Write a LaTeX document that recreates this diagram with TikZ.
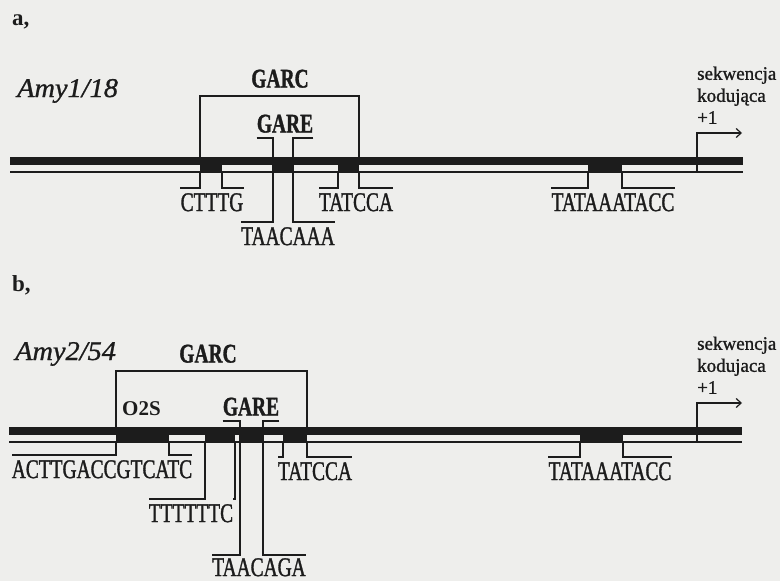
\documentclass[tikz,border=0pt]{standalone}
\usepackage{fontspec}
\setmainfont{Liberation Serif}
\newfontfamily\seqfont[FakeStretch=0.72,FakeBold=1.2]{Liberation Serif}
\newfontfamily\genefont[FakeStretch=1.05,FakeBold=1]{Liberation Serif}
\newfontfamily\notefont[FakeBold=1.2]{Liberation Serif}
\usepackage{tikz}
\usetikzlibrary{positioning,arrows.meta}
\definecolor{paper}{HTML}{EEEEEC}
\definecolor{ink}{HTML}{1C1C1C}
\tikzset{
  box/.style    = {rectangle, fill=ink, draw=none, inner sep=0pt, outer sep=0pt,
                   anchor=north west, minimum height=16pt},
  brk/.style    = {line width=1.2pt, draw=ink},
  strand/.style = {line width=1.5pt, draw=ink},
  flow/.style   = {-{Straight Barb[length=5pt,width=9pt]}, line width=1.2pt, draw=ink},
  seq/.style    = {font=\seqfont\fontsize{27}{27}\selectfont, text=ink,
                   inner xsep=0pt, inner ysep=5pt, anchor=north},
  elem/.style   = {font=\seqfont\bfseries\fontsize{27}{27}\selectfont, text=ink,
                   inner xsep=0pt, inner ysep=5pt, anchor=south},
  gene/.style   = {font=\genefont\itshape\fontsize{27}{27}\selectfont, text=ink, inner sep=0pt, anchor=base west},
  panel/.style  = {font=\bfseries\fontsize{23}{23}\selectfont, text=ink, inner sep=0pt, anchor=base west},
  note/.style   = {font=\notefont\fontsize{19}{22}\selectfont, text=ink, align=left, inner sep=0pt,
                   anchor=south west},
}
\begin{document}
\begin{tikzpicture}[x=1pt, y=-1pt]
  \fill[paper] (0,0) rectangle (780,581);
  \useasboundingbox (0,0) rectangle (780,581);

  % a, Amy1/18
  \node[panel] (pa) at (12,25) {a,};
  \node[gene] (amyA) at (17,97) {Amy1/18};
  \fill[ink] (10,157) rectangle (743,165);
  \draw[strand] (10,172) -- (743,172);
  \foreach \n/\l/\w in {a1/200/22, a2/273/20, a3/338/21, a4/588/34}
    \node[box, minimum width=\w pt] (\n) at (\l,157) {};

  \node[elem, inner ysep=8pt] (garcA) at (280,96) {GARC};
  \node[elem] (gareA) at (285,138) {GARE};
  \node[seq] (ctttg) at (212,188) {CTTTG};
  \node[seq] (taacaaa) at (288,222) {TAACAAA};
  \node[seq] (tatccaA) at (356,188) {TATCCA};
  \node[seq] (tataA) at (613,188) {TATAAATACC};
  \node[note] (cdsA) at (697,124) {sekwencja\\kodująca\\+1};

  \draw[brk] (a1.north west) |- (garcA.south) -| (a3.north east);
  \draw[brk] (gareA.south west) -| (a2.north west) |- (taacaaa.north west);
  \draw[brk] (gareA.south east) -| (a2.north east) |- (taacaaa.north east);
  \draw[brk] (a1.south west) |- (ctttg.north west);
  \draw[brk] (a1.south east) |- (ctttg.north east);
  \draw[brk] (a3.south west) |- (tatccaA.north west);
  \draw[brk] (a3.south east) |- (tatccaA.north east);
  \draw[brk] (a4.south west) |- (tataA.north west);
  \draw[brk] (a4.south east) |- (tataA.north east);
  \coordinate (tssA) at (697,172);
  \coordinate (endA) at (742,133);
  \draw[flow] (tssA) |- (endA);

  % b, Amy2/54
  \node[panel] (pb) at (12,291) {b,};
  \node[gene] (amyB) at (15,360) {Amy2/54};
  \fill[ink] (9,427) rectangle (742,435);
  \draw[strand] (9,442) -- (742,442);
  \foreach \n/\l/\w in {b1/116/53, b2/205/30, b3/240/23, b4/283/24, b5/580/43}
    \node[box, minimum width=\w pt] (\n) at (\l,427) {};

  \node[elem, inner ysep=8pt] (garcB) at (208,371) {GARC};
  \node[elem] (gareB) at (251,421) {GARE};
  \node[panel, font=\bfseries\fontsize{21}{21}\selectfont] (o2s) at (122,415) {O2S};
  \node[seq] (actt) at (102,455) {ACTTGACCGTCATC};
  \node[seq] (tttt) at (191,499) {TTTTTTC};
  \node[seq] (tatccaB) at (315,457) {TATCCA};
  \node[seq, inner ysep=3pt] (taacaga) at (259,555) {TAACAGA};
  \node[seq] (tataB) at (610,457) {TATAAATACC};
  \node[note] (cdsB) at (697,394) {sekwencja\\kodujaca\\+1};

  \draw[brk] (b1.north west) |- (garcB.south) -| (b4.north east);
  \draw[brk] (gareB.south west) -| (b3.north west) |- (taacaga.north west);
  \draw[brk] (gareB.south east) -| (b3.north east) |- (taacaga.north east);
  \draw[brk] (b1.south west) |- (actt.north west);
  \draw[brk] (b1.south east) |- (actt.north east);
  \draw[brk] (b2.south west) |- (tttt.north west);
  \draw[brk] (b2.south east) |- (tttt.north east);
  \draw[brk] (b4.south west) |- (tatccaB.north west);
  \draw[brk] (b4.south east) |- (tatccaB.north east);
  \draw[brk] (b5.south west) |- (tataB.north west);
  \draw[brk] (b5.south east) |- (tataB.north east);
  \coordinate (tssB) at (697,442);
  \coordinate (endB) at (742,403);
  \draw[flow] (tssB) |- (endB);
\end{tikzpicture}
\end{document}
